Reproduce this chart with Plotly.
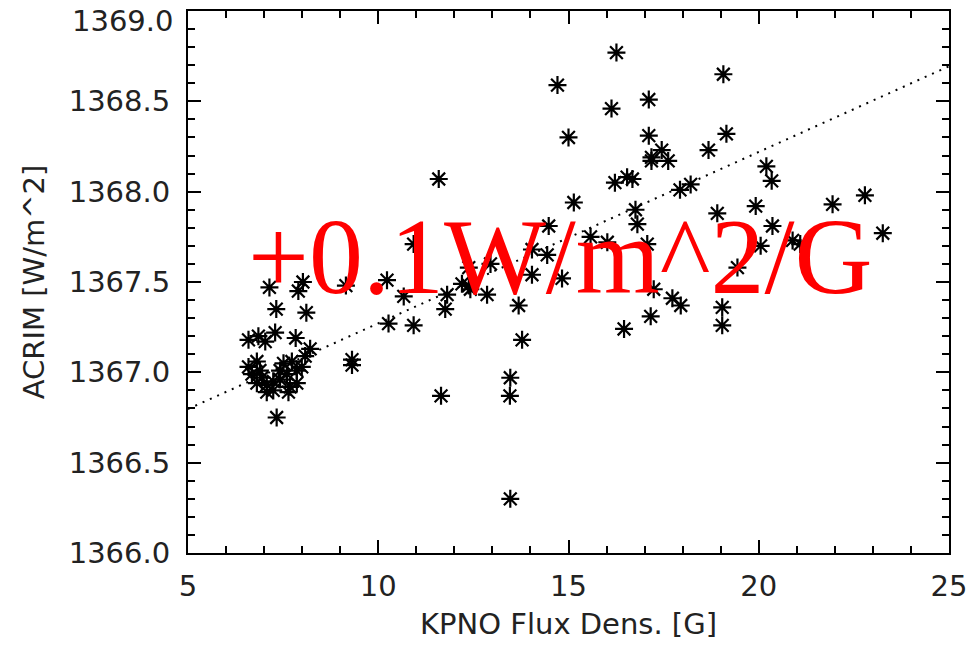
import plotly.graph_objects as go

kpno_flux = [16.26, 14.71, 19.07, 16.13, 17.11, 15.00, 17.11, 19.15, 18.68, 17.45,
             17.18, 17.18, 17.62, 16.22, 16.54, 16.68, 17.93, 18.21, 20.20, 20.34,
             15.14, 16.76, 16.81, 18.91, 19.92, 20.36, 20.05, 15.58, 16.02, 17.07,
             19.44, 17.24, 17.73, 17.95, 19.04, 19.04, 17.16, 16.46, 21.94, 22.79,
             23.26, 20.89, 21.09,
             11.59, 14.48, 10.93, 14.04, 14.44, 12.95, 12.38, 14.04, 14.83, 12.20,
             12.38, 12.42, 12.86, 11.81, 11.76, 10.67, 13.69, 10.93, 13.78, 13.47,
             13.46, 11.65, 13.47,
             7.14, 8.02, 7.90, 9.15, 10.23, 7.32, 8.11, 10.27, 6.59, 6.85,
             7.29, 7.03, 7.83, 8.21, 8.08, 9.31, 9.31,
             6.59, 6.81, 6.89, 6.68, 6.94, 6.81, 7.07, 7.24, 7.42, 7.51,
             7.60, 7.73, 7.86, 7.99, 7.42, 7.68, 7.86, 7.07, 7.24, 7.64, 7.33]

acrim = [1368.77, 1368.59, 1368.65, 1368.46, 1368.51, 1368.30, 1368.31, 1368.32, 1368.23, 1368.23,
         1368.19, 1368.17, 1368.17, 1368.05, 1368.08, 1368.07, 1368.01, 1368.04, 1368.14, 1368.06,
         1367.94, 1367.90, 1367.82, 1367.88, 1367.92, 1367.81, 1367.70, 1367.75, 1367.72, 1367.71,
         1367.58, 1367.46, 1367.41, 1367.37, 1367.36, 1367.26, 1367.31, 1367.24, 1367.93, 1367.98,
         1367.77, 1367.73, 1367.71,
         1368.07, 1367.81, 1367.71, 1367.68, 1367.65, 1367.60, 1367.58, 1367.54, 1367.52, 1367.49,
         1367.48, 1367.46, 1367.43, 1367.43, 1367.35, 1367.42, 1367.37, 1367.26, 1367.18, 1366.97,
         1366.87, 1366.87, 1366.30,
         1367.47, 1367.50, 1367.45, 1367.48, 1367.51, 1367.35, 1367.33, 1367.27, 1367.18, 1367.20,
         1367.22, 1367.17, 1367.19, 1367.13, 1367.09, 1367.07, 1367.04,
         1367.03, 1367.06, 1367.01, 1366.99, 1366.97, 1366.94, 1366.93, 1366.95, 1367.01, 1367.05,
         1366.99, 1367.06, 1367.01, 1367.03, 1366.96, 1366.92, 1366.94, 1366.89, 1366.90, 1366.89, 1366.75]

fit_x = [5, 25]
fit_y = [1366.797, 1368.694]

x_ticks = [5, 10, 15, 20, 25]
y_ticks = [1366.0, 1366.5, 1367.0, 1367.5, 1368.0, 1368.5, 1369.0]

label_text = "+0.1W/m^2/G"

fig = go.Figure()
fig.add_trace(go.Scatter(x=fit_x, y=fit_y, mode="lines",
                         line=dict(color="black", width=2, dash="2px,6px"),
                         showlegend=False, hoverinfo="skip"))
fig.add_trace(go.Scatter(x=kpno_flux, y=acrim, mode="markers",
                         marker=dict(symbol="asterisk-open", size=15, color="black",
                                     line=dict(color="black", width=2.2)),
                         showlegend=False))

fig.add_annotation(x=14.79, y=1367.64, xref="x", yref="y", text=label_text,
                   showarrow=False, xanchor="center", yanchor="middle",
                   font=dict(family="Liberation Serif", size=108, color="#ff0000"))

axfont = dict(family="DejaVu Sans", size=29, color="#222222")

# top y label drawn slightly lowered so it stays inside the page (as in the reference)
y_ticktext = ["%.1f" % v for v in y_ticks]
top_label = y_ticktext[-1]
y_ticktext[-1] = ""
fig.add_annotation(x=0, xref="paper", y=y_ticks[-1], yref="y", text=top_label,
                   showarrow=False, xanchor="right", yanchor="middle",
                   xshift=-13, yshift=-10, font=axfont)

fig.update_layout(
    width=971, height=648,
    margin=dict(l=188, r=22, t=11, b=95, autoexpand=False),
    paper_bgcolor="white", plot_bgcolor="white",
    xaxis=dict(range=[5, 25], tickvals=x_ticks, ticktext=[str(v) for v in x_ticks],
               showgrid=False, zeroline=False, showline=True, linecolor="black", linewidth=2,
               mirror="ticks", ticks="inside", ticklen=13, tickwidth=2, tickcolor="black",
               minor=dict(ticks="inside", dtick=1, ticklen=7, tickwidth=2, tickcolor="black", showgrid=False),
               tickfont=axfont, ticklabelstandoff=6, ticklabeloverflow="allow", automargin=False,
               title=dict(text="KPNO Flux Dens. [G]", font=axfont, standoff=12)),
    yaxis=dict(range=[1366, 1369], tickvals=y_ticks, ticktext=y_ticktext,
               showgrid=False, zeroline=False, showline=True, linecolor="black", linewidth=2,
               mirror="ticks", ticks="inside", ticklen=13, tickwidth=2, tickcolor="black",
               minor=dict(ticks="inside", dtick=0.1, ticklen=7, tickwidth=2, tickcolor="black", showgrid=False),
               tickfont=axfont, ticklabelstandoff=10, ticklabeloverflow="allow", automargin=False,
               title=dict(text="ACRIM [W/m^2]", font=axfont, standoff=16)),
)

fig.write_html("out.html")
